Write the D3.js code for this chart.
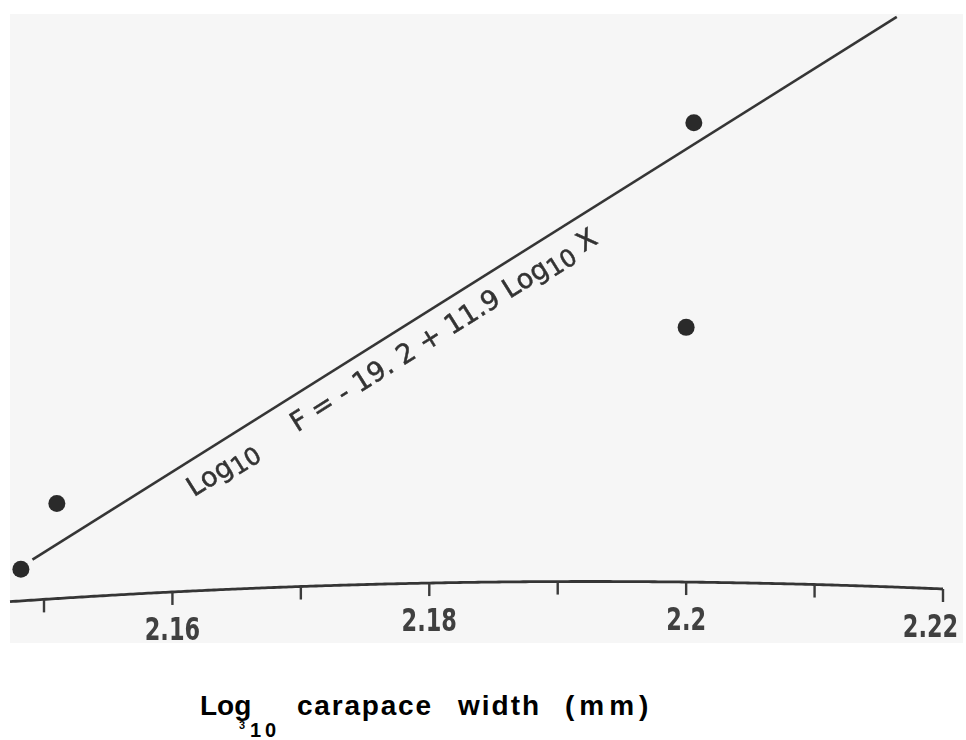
<!DOCTYPE html>
<html>
<head>
<meta charset="utf-8">
<script src="https://cdn.jsdelivr.net/npm/d3@7"></script>
<style>
  html, body { margin: 0; padding: 0; background: #ffffff; }
  svg { display: block; }
</style>
</head>
<body>
<svg id="chart" width="966" height="740"></svg>
<script>
// Log10 carapace width (x) against Log10 fecundity (y)
const xTicks = [2.15, 2.16, 2.17, 2.18, 2.19, 2.20, 2.21, 2.22];
const xTickLabels = ["", "2.16", "", "2.18", "", "2.2", "", "2.22"];
const carapaceLog = [2.1482, 2.1510, 2.2006, 2.2000];
const fecundityLog = [6.360, 6.457, 7.019, 6.717];
// Regression: Log10 F = -19.2 + 11.9 Log10 X
const fitIntercept = -19.2;
const fitSlope = 11.9;
const fitRange = [2.1491, 2.2164];

const svg = d3.select("#chart");

const x = d3.scaleLinear().domain([2.15, 2.22]).range([44, 943]);
const y = d3.scaleLinear().domain([6.3, 7.2]).range([610, 0]);
const fit = v => fitIntercept + fitSlope * v;

// soft printed look
const defs = svg.append("defs");
defs.append("filter").attr("id", "soft")
  .attr("x", "-5%").attr("y", "-5%").attr("width", "110%").attr("height", "110%")
  .append("feGaussianBlur").attr("stdDeviation", 0.6);

// paper sheet
svg.append("rect").attr("x", 10).attr("y", 14).attr("width", 953).attr("height", 629)
  .attr("fill", "#f6f6f6");

const plot = svg.append("g").attr("filter", "url(#soft)");

// the printed baseline sags slightly across the sheet
const sag = px => 581.5 + 6e-5 * (px - 590) * (px - 590);

const lastTick = xTicks.length - 1;
const axis = d3.axisBottom(x)
  .tickValues(xTicks)
  .tickSize(13)
  .tickFormat((d, i) => xTickLabels[i]);

const gx = plot.append("g").call(axis);
gx.selectAll(".tick").attr("transform", d => `translate(${x(d)},${sag(x(d))})`);
gx.selectAll(".tick line").attr("stroke", "#3a3a3a").attr("stroke-width", 2.4);
gx.selectAll(".tick text")
  .attr("y", 48).attr("dy", 0)
  .attr("dx", (d, i) => i === lastTick ? -16 : 0)
  .attr("transform", "scale(0.78,1)")
  .attr("fill", "#404040")
  .style("font-family", "'DejaVu Sans Condensed', 'DejaVu Sans', sans-serif")
  .style("font-stretch", "condensed")
  .style("font-weight", "bold")
  .style("font-size", "32px");
gx.select(".domain")
  .attr("d", d3.line()(d3.range(10, 944, 3).map(px => [px, sag(px)])))
  .attr("stroke", "#363636").attr("stroke-width", 2.8).attr("fill", "none");

// regression line
plot.append("path")
  .datum(fitRange)
  .attr("d", d3.line().x(d => x(d)).y(d => y(fit(d))))
  .attr("stroke", "#363636").attr("stroke-width", 2.6).attr("fill", "none");

// observations
plot.selectAll("circle.obs")
  .data(carapaceLog.map((c, i) => ({ c, f: fecundityLog[i] })))
  .join("circle")
  .attr("class", "obs")
  .attr("cx", d => x(d.c)).attr("cy", d => y(d.f))
  .attr("r", 8.5).attr("fill", "#2c2c2c");

// equation written along the line
const a0 = 2.1603;
const p0 = [x(a0), y(fit(a0))];
const p1 = [x(fitRange[1]), y(fit(fitRange[1]))];
const angle = Math.atan2(p1[1] - p0[1], p1[0] - p0[0]) * 180 / Math.PI;
const eq = plot.append("g")
  .attr("transform", `translate(${p0[0]},${p0[1]}) rotate(${angle})`)
  .append("text")
  .attr("y", 33)
  .attr("fill", "#333")
  .attr("stroke", "#333")
  .attr("stroke-width", 0.5)
  .style("font-family", "'DejaVu Sans', sans-serif")
  .style("font-size", "27px");
eq.append("tspan").attr("x", 0).text("Log");
eq.append("tspan").attr("dy", 5).style("font-size", "24px").text("10");
eq.append("tspan").attr("x", 122).attr("dy", -5).text("F = - 19. 2 + 11.9 Log");
eq.append("tspan").attr("dy", 5).style("font-size", "24px").text("10");
eq.append("tspan").attr("dy", -5).text(" X");

// axis title
const title = svg.append("g")
  .style("font-family", "'Liberation Sans', Arial, sans-serif")
  .style("font-weight", "bold")
  .attr("fill", "#000");
const t1 = title.append("text").attr("y", 715).style("font-size", "28px");
t1.append("tspan").attr("x", 200).text("Log");
t1.append("tspan").attr("x", 239).attr("y", 729).style("font-size", "11px").text("3");
t1.append("tspan").attr("x", 250).attr("y", 737).style("font-size", "20px")
  .style("letter-spacing", "4px").text("10");
const t2 = title.append("text").attr("y", 715).style("font-size", "28px");
t2.append("tspan").attr("x", 297).style("letter-spacing", "1.8px").text("carapace");
t2.append("tspan").attr("x", 458).style("letter-spacing", "2px").text("width");
t2.append("tspan").attr("x", 565).style("letter-spacing", "5px").text("(mm)");
</script>
</body>
</html>
